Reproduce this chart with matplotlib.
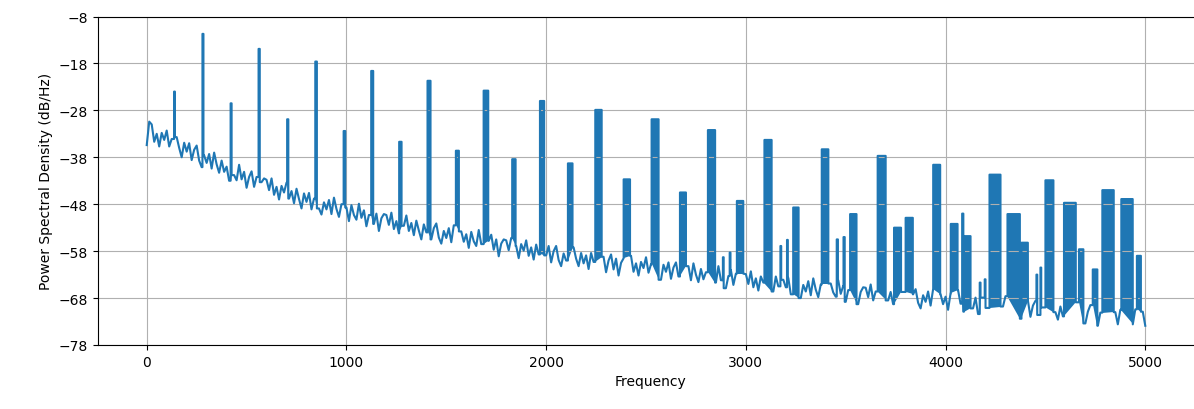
import numpy as np
import matplotlib
matplotlib.use("Agg")
import matplotlib.pyplot as plt

# noise floor of the spectrum, one value every 12.5 Hz
floor_freq = np.arange(0, 5001, 12.5)
floor_db = np.array([
    -35.4, -30.4, -31.0, -34.7, -33.0, -35.7, -32.8, -34.3, -32.3, -35.7, -34.1, -36.8, -33.7, -36.0, -38.0, -34.9,
    -36.8, -35.0, -38.6, -36.4, -35.5, -38.7, -40.1, -37.6, -39.2, -37.3, -40.4, -37.0, -39.5, -41.3, -38.7, -41.1,
    -40.0, -43.0, -39.7, -41.8, -42.9, -39.6, -42.7, -41.1, -44.5, -42.2, -41.0, -44.3, -42.2, -45.9, -43.3, -42.5,
    -42.8, -45.0, -42.5, -46.0, -44.3, -47.0, -44.1, -45.5, -43.4, -46.8, -45.2, -47.8, -44.7, -46.9, -48.9, -45.7,
    -47.5, -45.6, -49.1, -46.8, -45.8, -48.9, -50.2, -47.6, -49.1, -47.1, -50.1, -46.6, -49.0, -50.7, -48.0, -50.3,
    -48.7, -51.6, -48.2, -50.3, -51.3, -47.9, -50.9, -49.3, -52.7, -50.3, -49.0, -52.2, -50.0, -53.7, -51.0, -50.1,
    -50.3, -52.4, -49.8, -53.3, -51.6, -54.2, -51.2, -52.6, -50.4, -53.7, -52.0, -54.6, -51.5, -53.6, -55.5, -52.3,
    -54.0, -52.0, -55.5, -53.1, -52.1, -55.1, -56.4, -53.7, -55.2, -53.1, -56.1, -52.5, -54.9, -56.5, -53.8, -56.0,
    -54.4, -57.3, -53.9, -55.9, -56.9, -53.5, -56.5, -54.9, -58.2, -55.8, -54.5, -57.7, -55.5, -59.1, -56.4, -55.5,
    -55.7, -57.8, -55.2, -58.7, -56.9, -59.5, -56.5, -57.9, -55.7, -59.0, -57.2, -59.8, -56.6, -58.7, -60.6, -57.4,
    -58.9, -56.9, -60.4, -58.0, -56.9, -59.9, -61.2, -58.5, -60.0, -57.8, -60.8, -57.2, -59.6, -61.2, -58.4, -60.6,
    -58.9, -61.8, -58.4, -60.3, -61.3, -57.9, -60.8, -59.2, -62.5, -60.0, -58.7, -61.9, -59.6, -63.2, -60.5, -59.5,
    -59.6, -61.7, -59.0, -62.4, -60.6, -63.2, -60.3, -61.6, -59.3, -62.6, -60.8, -63.4, -60.2, -62.3, -64.1, -60.9,
    -62.4, -60.4, -63.9, -61.5, -60.4, -63.4, -64.7, -62.0, -63.4, -61.2, -64.2, -60.6, -63.0, -64.6, -61.8, -64.0,
    -62.5, -65.3, -61.9, -63.8, -64.7, -61.2, -64.2, -62.6, -65.9, -63.3, -62.0, -65.2, -62.8, -66.4, -63.7, -62.8,
    -62.9, -65.0, -62.3, -65.7, -63.8, -66.4, -63.4, -64.7, -62.5, -65.8, -64.0, -66.6, -63.4, -65.5, -67.3, -64.1,
    -65.7, -63.7, -67.2, -64.8, -63.7, -66.7, -68.0, -65.2, -66.6, -64.4, -67.4, -63.8, -66.2, -67.8, -65.1, -67.3,
    -65.6, -68.4, -64.9, -66.8, -67.7, -64.2, -67.1, -65.4, -68.8, -66.3, -65.0, -68.1, -65.8, -69.3, -66.7, -65.7,
    -65.8, -67.8, -65.1, -68.5, -66.6, -69.2, -66.2, -67.5, -65.3, -68.5, -66.7, -69.3, -66.1, -68.2, -70.0, -66.7,
    -68.2, -66.1, -69.6, -67.2, -66.1, -69.0, -70.2, -67.4, -68.8, -66.6, -69.6, -66.0, -68.4, -70.0, -67.2, -69.3,
    -67.7, -70.5, -67.0, -68.9, -69.8, -66.3, -69.2, -67.5, -70.9, -68.4, -67.1, -70.2, -67.9, -71.4, -68.8, -67.9,
    -68.0, -70.1, -67.3, -70.8, -68.9, -71.4, -68.4, -69.8, -67.6, -70.8, -69.0, -71.6, -68.4, -70.5, -72.4, -69.2,
    -70.7, -68.6, -72.0, -69.6, -68.6, -71.6, -72.9, -70.0, -71.4, -69.1, -72.2, -68.6, -71.0, -72.6, -69.8, -71.9,
    -70.2, -73.0, -69.5, -71.5, -72.4, -68.9, -71.8, -70.1, -73.4, -70.9, -69.5, -72.7, -70.4, -73.9, -71.1, -70.1,
    -70.2, -72.2, -69.5, -72.9, -71.0, -73.6, -70.5, -71.9, -69.5, -72.8, -71.0, -73.6, -70.4, -72.5, -74.2, -70.9,
    -73.9,
])

# harmonic peaks: low edge, high edge (Hz) and top level (dB/Hz)
peak_lo = [137, 279, 420, 560, 703, 844, 986, 1124, 1264, 1406, 1548, 1687,
           1830, 1969, 2109, 2246, 2388, 2528, 2670, 2810, 2885, 2919, 2955,
           3093, 3173, 3206, 3237, 3380, 3455, 3489, 3522, 3660, 3742, 3800,
           3938, 4026, 4083, 4092, 4171, 4196, 4220, 4310, 4380, 4455, 4475,
           4500, 4593, 4668, 4737, 4785, 4880, 4958]
peak_hi = [141, 284, 425, 566, 709, 852, 994, 1134, 1276, 1421, 1563, 1710,
           1847, 1990, 2132, 2278, 2420, 2563, 2700, 2846, 2889, 2923, 2987,
           3129, 3177, 3210, 3264, 3413, 3461, 3495, 3554, 3700, 3777, 3836,
           3973, 4060, 4089, 4125, 4175, 4200, 4275, 4372, 4412, 4459, 4479,
           4540, 4652, 4690, 4760, 4842, 4937, 4978]
peak_top = [-24.0, -11.7, -26.5, -14.9, -29.9, -17.6, -32.4, -19.6, -34.7,
            -21.7, -36.6, -23.8, -38.4, -26.0, -39.3, -27.9, -42.7, -29.9,
            -45.5, -32.2, -59.3, -58.3, -47.3, -34.3, -56.9, -55.6, -48.7,
            -36.3, -55.5, -55.0, -50.1, -37.7, -53.0, -50.9, -39.6, -52.2,
            -50.0, -54.8, -64.7, -64.0, -41.7, -50.1, -56.2, -63.0, -61.5,
            -42.9, -47.7, -57.6, -61.9, -45.0, -46.9, -59.0]

# walk along the floor and drop each peak in with straight sides
xs, ys, blocks = [], [], []
k, n = 0, len(floor_freq)
for lo, hi, top in zip(peak_lo, peak_hi, peak_top):
    while k < n and floor_freq[k] < lo:
        xs.append(floor_freq[k])
        ys.append(floor_db[k])
        k += 1
    base_lo = ys[-1]
    while k < n and floor_freq[k] <= hi:
        k += 1
    base_hi = floor_db[min(k, n - 1)]
    xs += [lo, lo, hi, hi]
    ys += [base_lo, top, top, base_hi]
    blocks.append(([lo, lo, hi, hi], [base_lo, top, top, base_hi]))
xs += list(floor_freq[k:])
ys += list(floor_db[k:])

fig = plt.figure(figsize=(11.94, 4.10), dpi=100)
ax = fig.add_axes([98 / 1194, 64 / 410, 1104 / 1194, 328.5 / 410])

ax.plot(xs, ys, color="C0", lw=1.5)
for bx, by in blocks:
    ax.fill(bx, by, color="C0", lw=0)

ax.set_xlim(-244, 5284)
ax.set_ylim(-78, -8)
ax.set_yticks(np.arange(-78, -7, 10))
ax.grid(True)
ax.set_xlabel("Frequency")
ax.set_ylabel("Power Spectral Density (dB/Hz)")

fig.savefig("out.png", dpi=100)
